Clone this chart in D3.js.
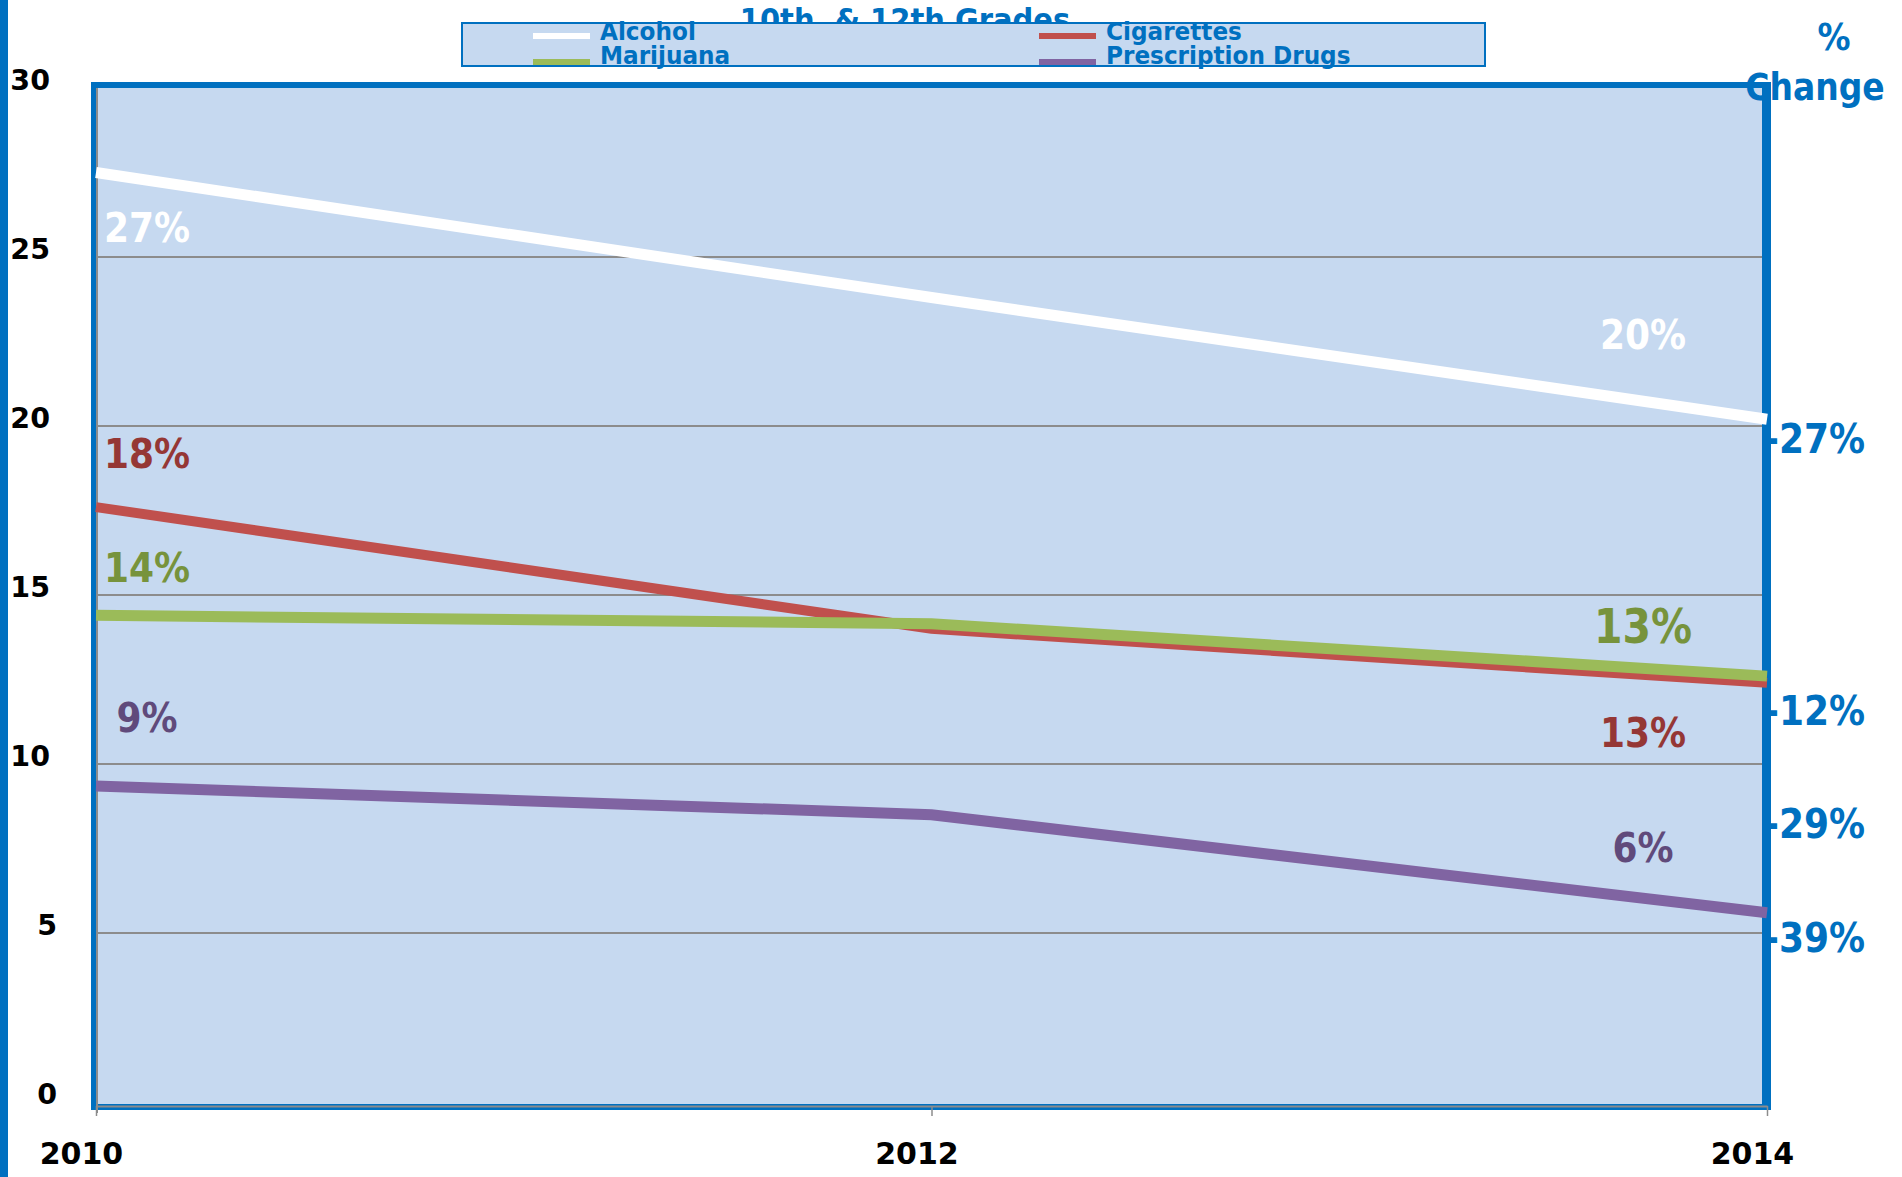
<!DOCTYPE html>
<html><head><meta charset="utf-8">
<script src="https://cdn.jsdelivr.net/npm/d3@7"></script>
<style>
html,body{margin:0;padding:0;background:#fff;}
svg{display:block;font-family:"DejaVu Sans",Verdana,sans-serif;font-weight:bold;}
</style></head>
<body>
<svg id="chart" width="1902" height="1177"></svg>
<script>
// ---- data ----
const years = [2010, 2012, 2014];
const alcohol = [27.5, 23.8, 20.2];
const cigarettes = [17.6, 14.0, 12.4];
const marijuana = [14.4, 14.15, 12.6];
const prescription = [9.35, 8.5, 5.6];
const seriesNames = ["Alcohol", "Cigarettes", "Marijuana", "Prescription Drugs"];
const yTicks = [0, 5, 10, 15, 20, 25, 30];
const startLabels = ["27%", "18%", "14%", "9%"];
const endLabels = ["20%", "13%", "13%", "6%"];
const changeLabels = ["-27%", "-12%", "-29%", "-39%"];
const titleText = "10th  & 12th Grades";

// ---- styles / layout ----
const lineColors = ["#ffffff", "#c0504d", "#9bbb59", "#8064a2"];
const labelColors = ["#ffffff", "#953735", "#77933c", "#604a7b"];
const blue = "#0070c0";
const plotBg = "#c6d9f0";
const startDy = [54, -54, -48, -69];
const endDy = [-85, 49, -50, -66];
const endSize = [36, 36, 41, 36];
const changeY = [19.66, 11.6, 8.25, 4.88];

const values = [alcohol, cigarettes, marijuana, prescription];
const svg = d3.select("#chart");

const x = d3.scaleLinear().domain([2010, 2014]).range([96, 1767]);
const y = d3.scaleLinear().domain([0, 30]).range([1102, 88]);

// left blue bar
svg.append("rect").attr("x", 0).attr("y", 0).attr("width", 8).attr("height", 1177).attr("fill", blue);

// title (partly hidden behind legend)
svg.append("text").attr("transform", "translate(905,31) scale(1,1.12)").attr("text-anchor", "middle")
  .attr("font-size", 29).attr("fill", blue).style("white-space", "pre").text(titleText);

// legend
svg.append("rect").attr("x", 462).attr("y", 23).attr("width", 1023).attr("height", 43)
  .attr("fill", plotBg).attr("stroke", blue).attr("stroke-width", 2);
const legPos = [[533, 36, 40], [1039, 36, 40], [533, 62, 64], [1039, 62, 64]];
seriesNames.forEach((n, i) => {
  const [lx, ly, tb] = legPos[i];
  svg.append("line").attr("x1", lx).attr("x2", lx + 57).attr("y1", ly).attr("y2", ly)
    .attr("stroke", lineColors[i]).attr("stroke-width", 6);
  svg.append("text").attr("transform", `translate(${lx + 67},${tb}) scale(1.03,1.12)`)
    .attr("font-size", 22.5).attr("fill", blue).text(n);
});

// plot background
svg.append("rect").attr("x", 94).attr("y", 85).attr("width", 1674).attr("height", 1022)
  .attr("fill", plotBg);

// gridlines
svg.append("g").selectAll("line").data(yTicks.filter(t => t > 0 && t < 30)).join("line")
  .attr("x1", 96).attr("x2", 1767).attr("y1", d => y(d)).attr("y2", d => y(d))
  .attr("stroke", "#8c8c8c").attr("stroke-width", 2);

// plot border
svg.append("rect").attr("x", 94).attr("y", 85).attr("width", 1674).attr("height", 1022)
  .attr("fill", "none").attr("stroke", blue).attr("stroke-width", 6);
svg.append("line").attr("x1", 1766.5).attr("x2", 1766.5).attr("y1", 82).attr("y2", 1110)
  .attr("stroke", blue).attr("stroke-width", 9);

// left grey axis line
svg.append("line").attr("x1", 97).attr("x2", 97).attr("y1", 88).attr("y2", 1113)
  .attr("stroke", "#8c8c8c").attr("stroke-width", 2);

// y axis labels
const yAxis = svg.append("g")
  .call(d3.axisLeft(y).tickValues(yTicks).tickSize(0).tickPadding(0));
yAxis.select(".domain").remove();
yAxis.selectAll("text").attr("dy", null).attr("y", 1)
  .attr("x", d => d < 10 ? 57 : 50)
  .attr("font-size", 28.5)
  .attr("font-family", "DejaVu Sans").attr("font-weight", "bold").attr("fill", "#000");

// x axis
const xAxis = svg.append("g").attr("transform", "translate(0,1106)")
  .call(d3.axisBottom(x).tickValues(years).tickFormat(d3.format("d")).tickSize(10).tickSizeOuter(0));
xAxis.select(".domain").attr("stroke", "#8c8c8c").attr("stroke-width", 2);
xAxis.selectAll(".tick line").attr("stroke", "#8c8c8c").attr("stroke-width", 1.5);
xAxis.selectAll("text").attr("dy", null).attr("y", 58).attr("x", -15).attr("font-size", 30)
  .attr("font-family", "DejaVu Sans").attr("font-weight", "bold").attr("fill", "#000");

// series lines
const line = d3.line().x((d, i) => x(years[i])).y(d => y(d));
values.forEach((vals, i) => {
  svg.append("path").datum(vals).attr("d", line).attr("fill", "none")
    .attr("stroke", lineColors[i]).attr("stroke-width", i === 1 ? 10 : 11);
});

// value labels (stretched vertically)
function stretched(txt, cx, cy, size, color, anchor) {
  const base = cy + 0.729 * size * 1.15 / 2;
  svg.append("text").attr("transform", `translate(${cx},${base}) scale(1,1.15)`)
    .attr("text-anchor", anchor).attr("font-size", size).attr("fill", color).text(txt);
}
values.forEach((vals, i) => {
  stretched(startLabels[i], 147, y(vals[0]) + startDy[i], 36, labelColors[i], "middle");
  stretched(endLabels[i], 1643, y(vals[2]) + endDy[i], endSize[i], labelColors[i], "middle");
});

// % change annotations
changeLabels.forEach((t, i) => {
  stretched(t, 1764, y(changeY[i]), 36, blue, "start");
});
stretched("%", 1834, 36, 33, blue, "middle");
stretched("Change", 1815, 86, 33, blue, "middle");
</script>
</body></html>
